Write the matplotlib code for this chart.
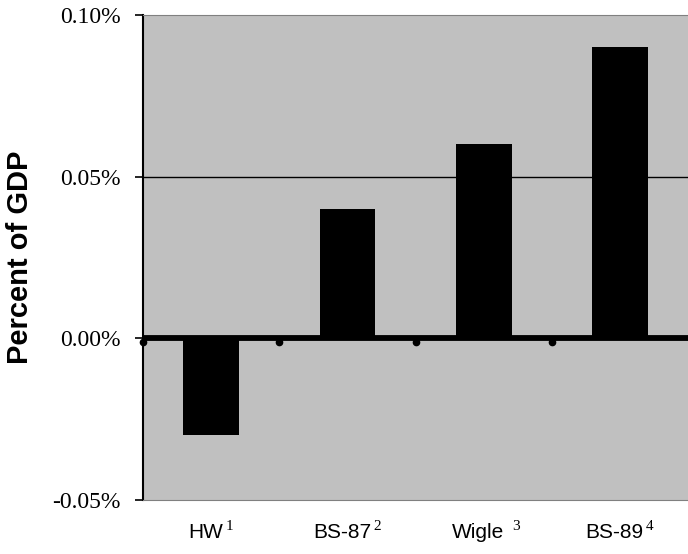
import matplotlib
matplotlib.use("Agg")
import matplotlib.pyplot as plt
from matplotlib.transforms import ScaledTranslation

studies = ["HW", "BS-87", "Wigle", "BS-89"]
notes = ["1", "2", "3", "4"]
note_gap = [1.5, 1.5, 6, 1.5]   # "Wigle 3" has a space before the note
values = [-0.03, 0.04, 0.06, 0.09]
yticks = [-0.05, 0.0, 0.05, 0.10]

plt.rcParams["font.family"] = ["Liberation Sans", "DejaVu Sans"]

fig = plt.figure(figsize=(6.88, 5.54), dpi=100)
ax = fig.add_axes([0.208, 0.0975, 0.792, 0.8755])
ax.set_facecolor("#c0c0c0")

x = list(range(len(studies)))
ax.bar(x, values, width=0.41, color="black", zorder=3)

ax.set_xlim(-0.5, 3.5)
ax.set_ylim(-0.05, 0.10)
ax.axhline(0.05, color="black", lw=1, zorder=1)
ax.axhline(0.0, color="black", lw=4.2, zorder=4)

# category separators: small round ticks hanging below the zero line
off = ScaledTranslation(0, -2.5 / 72, fig.dpi_scale_trans)
ax.plot([i - 0.5 for i in x], [0] * len(x), "o", ms=4.5, color="black",
        transform=ax.transData + off, clip_on=False, zorder=5)

ax.set_yticks(yticks)
ax.set_yticklabels([f"{v:.2f}%" for v in yticks])
ax.tick_params(axis="y", direction="out", length=6, width=1.2, pad=10,
               labelsize=17, labelfontfamily="Liberation Serif")

# category labels with superscript note numbers
ax.set_xticks([])
for i, (s, n, g) in enumerate(zip(studies, notes, note_gap)):
    base = ax.annotate(s, xy=(i, -0.078), xycoords=ax.get_xaxis_transform(),
                       xytext=(-4, 0), textcoords="offset points",
                       ha="center", va="baseline", fontsize=15)
    ax.annotate(n, xy=(1, 1), xycoords=base, xytext=(g, 2),
                textcoords="offset points", ha="left", va="top",
                family="Liberation Serif", fontsize=11)

ax.set_ylabel("Percent of GDP", fontsize=21, fontweight="bold")
ax.yaxis.set_label_coords(-0.2, 0.5)

ax.spines["right"].set_visible(False)
ax.spines["top"].set_color("#808080")
ax.spines["bottom"].set_color("#808080")
ax.spines["left"].set_linewidth(1.5)

fig.savefig("out.png", dpi=100)
